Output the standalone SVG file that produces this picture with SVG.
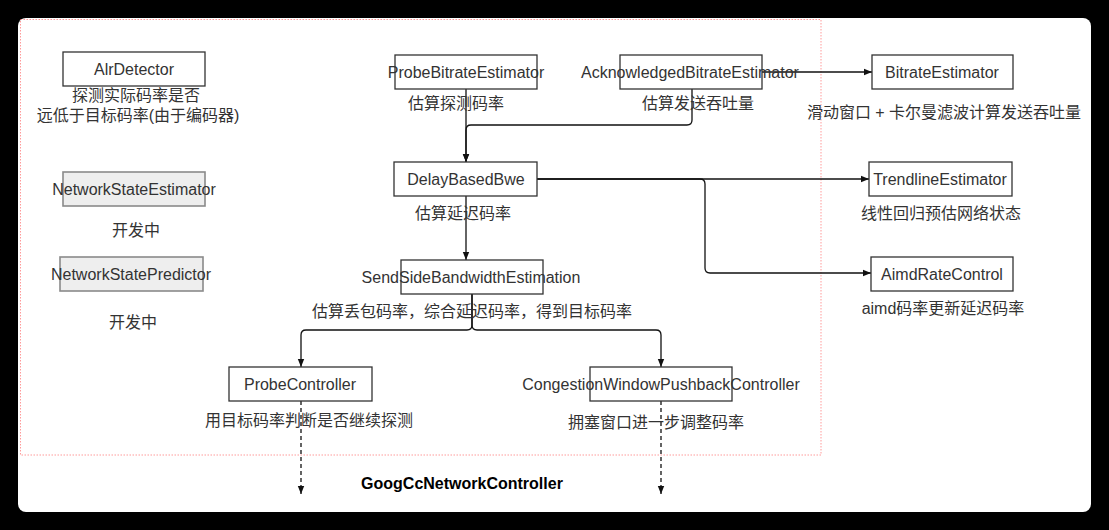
<svg xmlns="http://www.w3.org/2000/svg" width="1109" height="530" viewBox="0 0 1109 530">
<defs>
<marker id="arr" viewBox="0 0 8 8" refX="8" refY="4" markerWidth="8" markerHeight="8" markerUnits="userSpaceOnUse" orient="auto">
<path d="M0,0.8 L8,4 L0,7.2 Z" fill="#111"/>
</marker>
<style>
.box{fill:#fff;stroke:#333;stroke-width:1.3}
.gbox{fill:#eeeeee;stroke:#8a8a8a;stroke-width:1.6}
.t{font-family:"Liberation Sans",Arial,"Noto Sans CJK SC",sans-serif;font-size:16px;fill:#333;text-anchor:middle}
.c{font-family:"Liberation Sans","Noto Sans CJK SC",sans-serif;font-size:16px;fill:#333;text-anchor:middle}
.e{fill:none;stroke:#111;stroke-width:1.3}
.d{fill:none;stroke:#111;stroke-width:1.3;stroke-dasharray:4 3}
</style>
</defs>
<rect x="0" y="0" width="1109" height="530" fill="#000"/>
<rect x="18" y="18" width="1073" height="494" rx="8" fill="#fff"/>
<rect x="20.5" y="19.5" width="800.5" height="435.5" fill="none" stroke="#ff9a9a" stroke-width="1" stroke-dasharray="1.5 1.5"/>

<g id="connectors">
<path class="e" d="M466,89 V162" marker-end="url(#arr)"/>
<path class="e" d="M692,89 V120 Q692,125 687,125 H471 Q466,125 466,130 V162" marker-end="url(#arr)"/>
<path class="e" d="M762,72 H872" marker-end="url(#arr)"/>
<path class="e" d="M537,179 H869" marker-end="url(#arr)"/>
<path class="e" d="M537,179 H700 Q705,179 705,184 V268 Q705,273 710,273 H871" marker-end="url(#arr)"/>
<path class="e" d="M466,196 V260" marker-end="url(#arr)"/>
<path class="e" d="M472,294 V325 Q472,330 467,330 H306 Q301,330 301,335 V367" marker-end="url(#arr)"/>
<path class="e" d="M472,294 V325 Q472,330 477,330 H656 Q661,330 661,335 V367" marker-end="url(#arr)"/>
<path class="d" d="M301,401 V494" marker-end="url(#arr)"/>
<path class="d" d="M661,401 V494" marker-end="url(#arr)"/>
</g>

<g id="AlrDetector">
<rect class="box" x="63" y="52" width="142" height="34"/>
<text class="t" x="134" y="75">AlrDetector</text>
<text class="c" x="136" y="101">探测实际码率是否</text>
<text class="c" x="138" y="121">远低于目标码率(由于编码器)</text>
</g>

<g id="ProbeBitrateEstimator">
<rect class="box" x="395" y="55" width="142" height="34"/>
<text class="t" x="466" y="78">ProbeBitrateEstimator</text>
<text class="c" x="456" y="109">估算探测码率</text>
</g>

<g id="AcknowledgedBitrateEstimator">
<rect class="box" x="620" y="55" width="142" height="34"/>
<text class="t" x="690" y="78">AcknowledgedBitrateEstimator</text>
<text class="c" x="698" y="109">估算发送吞吐量</text>
</g>

<g id="BitrateEstimator">
<rect class="box" x="872" y="55" width="141" height="34"/>
<text class="t" x="942" y="78">BitrateEstimator</text>
<text class="c" x="944" y="118">滑动窗口 + 卡尔曼滤波计算发送吞吐量</text>
</g>

<g id="NetworkStateEstimator">
<rect class="gbox" x="63" y="172" width="142" height="34"/>
<text class="t" x="134" y="195">NetworkStateEstimator</text>
<text class="c" x="136" y="236">开发中</text>
</g>

<g id="NetworkStatePredictor">
<rect class="gbox" x="60" y="257" width="143" height="34"/>
<text class="t" x="131" y="280">NetworkStatePredictor</text>
<text class="c" x="133" y="328">开发中</text>
</g>

<g id="DelayBasedBwe">
<rect class="box" x="394" y="162" width="143" height="34"/>
<text class="t" x="466" y="185">DelayBasedBwe</text>
<text class="c" x="463" y="219">估算延迟码率</text>
</g>

<g id="TrendlineEstimator">
<rect class="box" x="869" y="162" width="143" height="34"/>
<text class="t" x="940" y="185">TrendlineEstimator</text>
<text class="c" x="941" y="219">线性回归预估网络状态</text>
</g>

<g id="AimdRateControl">
<rect class="box" x="871" y="257" width="142" height="34"/>
<text class="t" x="942" y="280">AimdRateControl</text>
<text class="c" x="943" y="314">aimd码率更新延迟码率</text>
</g>

<g id="SendSideBandwidthEstimation">
<rect class="box" x="401" y="260" width="142" height="34"/>
<text class="t" x="471" y="283">SendSideBandwidthEstimation</text>
<text class="c" x="472" y="317">估算丢包码率，综合延迟码率，得到目标码率</text>
</g>

<g id="ProbeController">
<rect class="box" x="229" y="367" width="143" height="34"/>
<text class="t" x="300" y="390">ProbeController</text>
<text class="c" x="309" y="426">用目标码率判断是否继续探测</text>
</g>

<g id="CongestionWindowPushbackController">
<rect class="box" x="590" y="367" width="142" height="34"/>
<text class="t" x="661" y="390">CongestionWindowPushbackController</text>
<text class="c" x="656" y="428">拥塞窗口进一步调整码率</text>
</g>

<g id="GoogCcNetworkController">
<text class="t" x="462" y="489" style="font-weight:bold;fill:#000">GoogCcNetworkController</text>
</g>
</svg>
